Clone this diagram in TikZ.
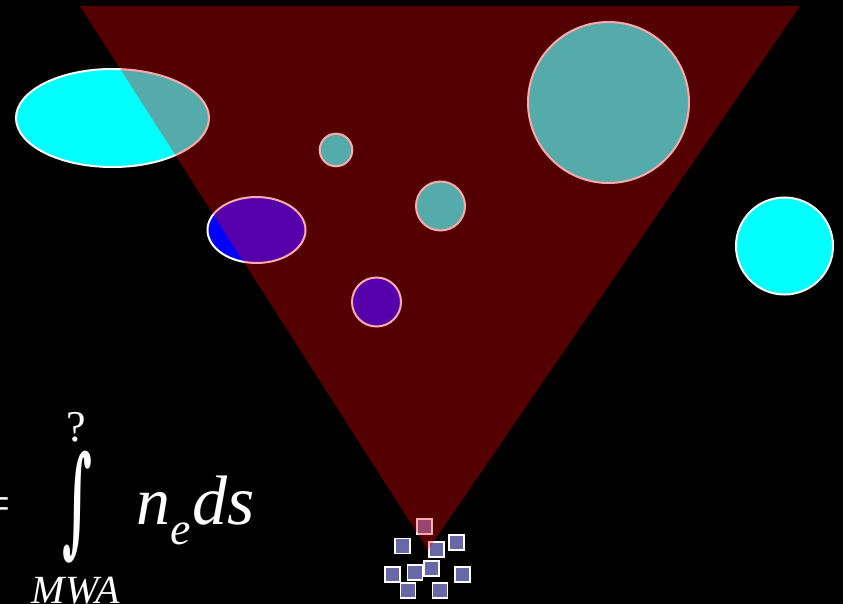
\documentclass[tikz,border=0pt]{standalone}
\usepackage{fontspec}
\setmainfont{Liberation Serif}
\newfontfamily\intfont{DejaVu Serif}
\usepackage{graphicx}
\usetikzlibrary{positioning}

\definecolor{gascyan}{RGB}{0,255,255}
\definecolor{gasblue}{RGB}{0,0,255}
\definecolor{tilefill}{RGB}{104,104,168}

\tikzset{
  cloud/.style={draw=white, line width=2pt},
  tile/.style={draw=white, line width=1.5pt, fill=tilefill},
  beam/.style={fill=red, fill opacity=0.333},
  formula/.style={text=white, inner sep=0pt},
}

\begin{document}
\begin{tikzpicture}[x=1pt,y=-1pt]

% Black sky
\fill[black] (0,0) rectangle (843,604);
\clip (0,0) rectangle (843,604);

% Electron clouds
\draw[cloud, fill=gascyan] (112.5,118) ellipse [x radius=96.5, y radius=49];
\draw[cloud, fill=gasblue] (256.5,230) ellipse [x radius=49, y radius=33];
\foreach \x/\y/\r in {608.5/102.5/80.5, 336/150/16.3, 440.5/206/24.5, 784.5/246/48.5}
{
\draw[cloud, fill=gascyan] (\x,\y) circle (\r);
}
\draw[cloud, fill=gasblue] (376.5,302) circle (24.5);

% Antenna tiles
\foreach \x/\y in {424.3/526.7, 402.3/546, 436.7/549.3, 456.3/542.3, 392.3/574.3,
  415/572.3, 431.3/568.3, 462.3/574.3, 408/590.3, 440/590.3}
{
\draw[tile] (\x-7.5,\y-7.5) rectangle ++(15,15);
}

% Field of view
\fill[beam] (80,6) -- (800,6) -- (428,550) -- cycle;

% Dispersion measure
\node[formula, font=\fontsize{50}{50}\selectfont, anchor=east] (eq) at (11,509) {=};
\node[formula, anchor=north] (intg) at (77.5,451) {\resizebox*{30pt}{112pt}{\intfont\bfseries ∫}};
\node[formula, font=\fontsize{44}{44}\selectfont, anchor=south] (upper) at (76.5,442) {?};
\node[formula, font=\fontsize{40}{40}\selectfont\itshape, anchor=base] (lower) at (76,603) {MWA};
\node[formula, font=\fontsize{68}{68}\selectfont\itshape, anchor=base west] (ne) at (136,524) {n};
\node[formula, font=\fontsize{46}{46}\selectfont\itshape, anchor=base west] (sub) at (170,544) {e};
\node[formula, font=\fontsize{70}{70}\selectfont\itshape, anchor=base west] (ds) at (192,524) {ds};

\end{tikzpicture}
\end{document}
